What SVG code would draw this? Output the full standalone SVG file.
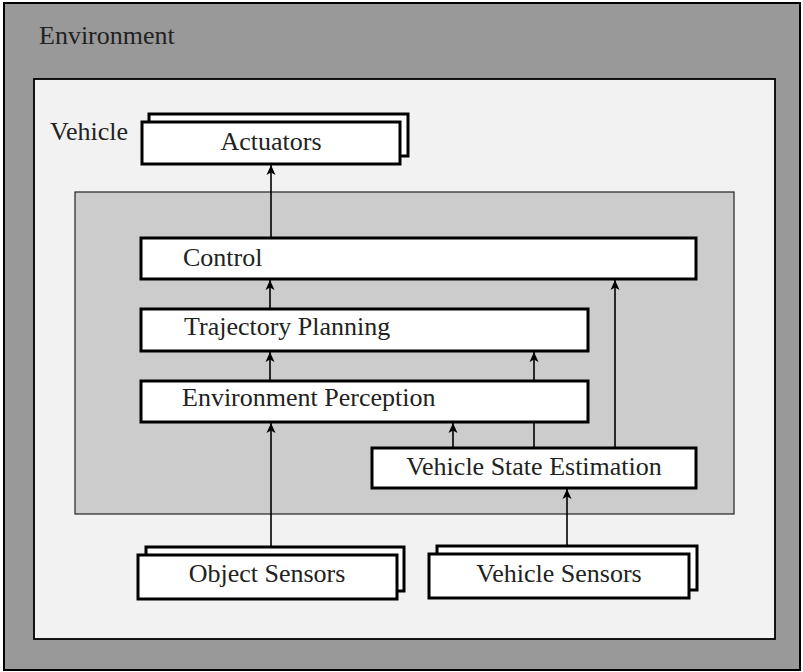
<svg xmlns="http://www.w3.org/2000/svg" width="803" height="672" viewBox="0 0 803 672">
  <defs>
    <marker id="arrow" viewBox="0 0 10 12" refX="10" refY="6" markerWidth="11" markerHeight="12" markerUnits="userSpaceOnUse" orient="auto">
      <path d="M0,1.5 L10,6 L0,10.5 L2.5,6 Z" fill="#000"/>
    </marker>
  </defs>
  <style>
    text { font-family: "Liberation Serif", "Times New Roman", serif; font-size: 26px; fill: #222; }
    .box { fill: #fff; stroke: #000; stroke-width: 3; }
    .link { stroke: #000; stroke-width: 1.6; fill: none; marker-end: url(#arrow); }
  </style>

  <!-- Environment frame -->
  <g id="environment">
    <rect x="4" y="3" width="796" height="667" fill="#999" stroke="#000" stroke-width="2"/>
    <text x="39" y="44">Environment</text>
  </g>

  <!-- Vehicle frame -->
  <g id="vehicle">
    <rect x="34" y="79" width="741" height="560" fill="#f2f2f2" stroke="#000" stroke-width="1.8"/>
    <text x="50" y="140">Vehicle</text>
  </g>

  <!-- Processing area -->
  <g id="processing">
    <rect x="75" y="192" width="659" height="322" fill="#ccc" stroke="#222" stroke-width="1.2"/>
  </g>

  <!-- Connectors -->
  <g id="connectors">
    <line class="link" x1="271" y1="238" x2="271" y2="165"/>
    <line class="link" x1="270" y1="309" x2="270" y2="280"/>
    <line class="link" x1="270" y1="381" x2="270" y2="352"/>
    <line class="link" x1="271" y1="547" x2="271" y2="423"/>
    <line class="link" x1="615" y1="448" x2="615" y2="280"/>
    <line class="link" x1="534" y1="448" x2="534" y2="352"/>
    <line class="link" x1="453" y1="448" x2="453" y2="423"/>
    <line class="link" x1="567" y1="546" x2="567" y2="489"/>
  </g>

  <g id="actuators">
    <rect class="box" x="149" y="114" width="259" height="42"/>
    <rect class="box" x="142" y="122" width="258" height="42"/>
    <text x="271" y="150" text-anchor="middle">Actuators</text>
  </g>

  <g id="control">
    <rect class="box" x="141" y="238" width="555" height="41"/>
    <text x="183" y="266">Control</text>
  </g>

  <g id="trajectory-planning">
    <rect class="box" x="141" y="309" width="447" height="42"/>
    <text x="184" y="335">Trajectory Planning</text>
  </g>

  <g id="environment-perception">
    <rect class="box" x="141" y="381" width="447" height="41"/>
    <text x="182" y="406">Environment Perception</text>
  </g>

  <g id="vehicle-state-estimation">
    <rect class="box" x="372" y="448" width="324" height="40"/>
    <text x="534" y="475" text-anchor="middle">Vehicle State Estimation</text>
  </g>

  <g id="object-sensors">
    <rect class="box" x="146" y="547" width="258" height="44"/>
    <rect class="box" x="138" y="555" width="259" height="44"/>
    <text x="267" y="582" text-anchor="middle">Object Sensors</text>
  </g>

  <g id="vehicle-sensors">
    <rect class="box" x="437" y="546" width="260" height="44"/>
    <rect class="box" x="429" y="554" width="260" height="44"/>
    <text x="559" y="582" text-anchor="middle">Vehicle Sensors</text>
  </g>
</svg>
